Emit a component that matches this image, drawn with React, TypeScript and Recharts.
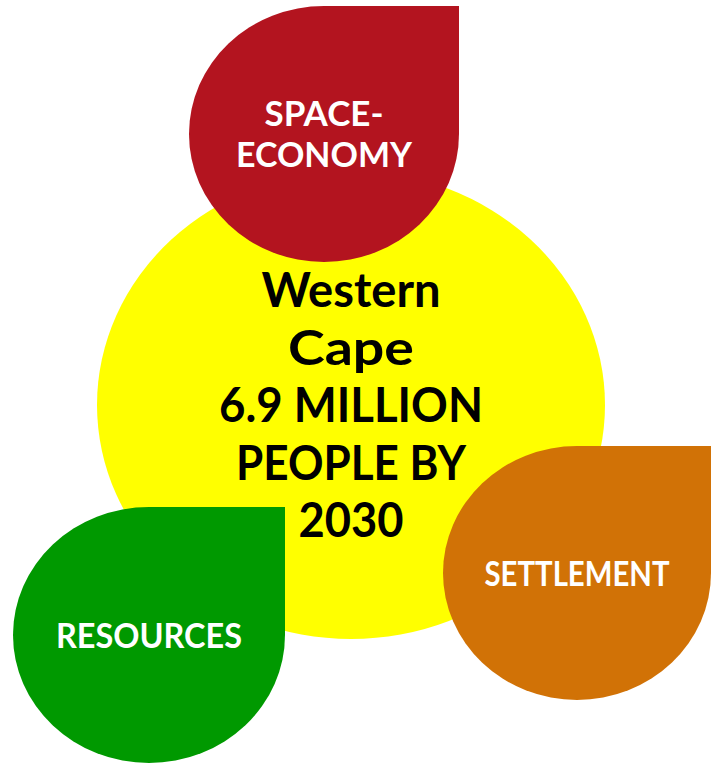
import { Scatter, ScatterChart, XAxis, YAxis } from "recharts";

const WIDTH = 711;
const HEIGHT = 763;

// one bubble per theme; x/y are centres, rx/ry half-widths, in chart units
const bubbleNames = ["Western Cape", "Space-Economy", "Settlement", "Resources"];
const bubbleLines = [
  ["Western", "Cape", "6.9 MILLION", "PEOPLE BY", "2030"],
  ["SPACE-", "ECONOMY"],
  ["SETTLEMENT"],
  ["RESOURCES"],
];
const bubbleX = [351, 324, 577, 149];
const bubbleY = [405, 134, 573, 635];
const bubbleRX = [254, 135, 134, 136];
const bubbleRY = [234, 128, 127, 128];

const bubbles = bubbleNames.map((name, i) => ({
  name,
  lines: bubbleLines[i],
  x: bubbleX[i],
  y: bubbleY[i],
  rx: bubbleRX[i],
  ry: bubbleRY[i],
}));

const STYLES: Record<string, { fill: string; text: string; drop: boolean; font: number; cap: number; lh: number; widths: number[] }> = {
  "Western Cape": { fill: "#FFFF00", text: "#000000", drop: false, font: 47, cap: 34, lh: 57.5, widths: [179, 126, 264, 230, 105] },
  "Space-Economy": { fill: "#B3141F", text: "#FFFFFF", drop: true, font: 34, cap: 25, lh: 41, widths: [119, 176] },
  Settlement: { fill: "#D17206", text: "#FFFFFF", drop: true, font: 34, cap: 25, lh: 41, widths: [185] },
  Resources: { fill: "#009900", text: "#FFFFFF", drop: true, font: 34, cap: 25, lh: 41, widths: [186] },
};

function bubblePath(cx: number, cy: number, rx: number, ry: number, drop: boolean) {
  if (!drop) {
    return `M${cx - rx},${cy} A${rx},${ry} 0 1 1 ${cx + rx},${cy} A${rx},${ry} 0 1 1 ${cx - rx},${cy} Z`;
  }
  // teardrop: top-right quarter squared off
  return [
    `M${cx},${cy - ry}`,
    `L${cx + rx},${cy - ry}`,
    `L${cx + rx},${cy}`,
    `A${rx},${ry} 0 0 1 ${cx},${cy + ry}`,
    `A${rx},${ry} 0 0 1 ${cx - rx},${cy}`,
    `A${rx},${ry} 0 0 1 ${cx},${cy - ry}`,
    "Z",
  ].join(" ");
}

function BubbleShape(props: any) {
  const { cx, cy, payload } = props;
  const style = STYLES[payload.name];
  const n = payload.lines.length;

  return (
    <g>
      <path d={bubblePath(cx, cy, payload.rx, payload.ry, style.drop)} fill={style.fill} />
      {payload.lines.map((line: string, i: number) => (
        <text
          key={line}
          x={cx}
          y={cy + (i - (n - 1) / 2) * style.lh + style.cap / 2}
          textAnchor="middle"
          fill={style.text}
          fontFamily="Lato, 'Open Sans', sans-serif"
          fontWeight={700}
          fontSize={style.font}
          textLength={style.widths[i]}
          lengthAdjust="spacingAndGlyphs"
        >
          {line}
        </text>
      ))}
    </g>
  );
}

export default function App() {
  return (
    <div style={{ position: "absolute", left: 0, top: 0, width: WIDTH, height: HEIGHT, background: "#ffffff" }}>
      <ScatterChart width={WIDTH} height={HEIGHT} margin={{ top: 0, right: 0, bottom: 0, left: 0 }}>
        <XAxis type="number" dataKey="x" domain={[0, WIDTH]} hide />
        <YAxis type="number" dataKey="y" domain={[0, HEIGHT]} reversed hide />
        <Scatter data={bubbles} shape={BubbleShape} isAnimationActive={false} />
      </ScatterChart>
    </div>
  );
}
